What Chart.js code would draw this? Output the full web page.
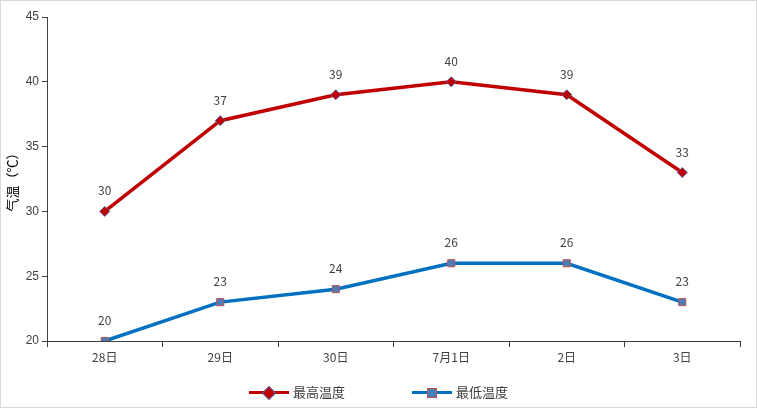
<!DOCTYPE html>
<html><head><meta charset="utf-8">
<script src="https://cdn.jsdelivr.net/npm/chart.js@4/dist/chart.umd.min.js"></script>
<style>
body{margin:0;background:#fff;font-family:"Noto Sans CJK SC",sans-serif}
#wrap{position:relative;width:757px;height:408px}
#frame{position:absolute;left:0;top:0;width:755px;height:406px;border:1px solid #d9d9d9;pointer-events:none}
#legend{position:absolute;top:380px;left:0;width:757px;text-align:center;font-size:13px;color:#404040}
.item{display:inline-block;margin:0 32px;vertical-align:middle}
.sw{display:inline-block;position:relative;width:40px;height:10px;vertical-align:middle;margin-right:4px}
.sw i{position:absolute;left:0;right:0;top:3px;height:3px}
.sw b{position:absolute;left:15px;top:0;width:8px;height:8px}
</style></head>
<body><div id="wrap"><canvas id="c" width="757" height="408"></canvas><div id="frame"></div>
<div id="legend">
<span class="item"><span class="sw"><i style="background:#c00000"></i><b style="background:#c00000;border:1px solid #5b5ea6;transform:rotate(45deg)"></b></span>最高温度</span>
<span class="item"><span class="sw"><i style="background:#0070c0"></i><b style="background:#4a7ebb;border:1px solid #c0504d"></b></span>最低温度</span>
</div></div>
<script>
// chart data
const categories = ["28日", "29日", "30日", "7月1日", "2日", "3日"];
const highTemps = [30, 37, 39, 40, 39, 33];
const lowTemps = [20, 23, 24, 26, 26, 23];

// draws value labels above each point
const valueLabels = {
    id: "valueLabels",
    afterDatasetsDraw(chart) {
        const ctx = chart.ctx;
        ctx.save();
        ctx.font = "12px 'Noto Sans CJK SC', sans-serif";
        ctx.fillStyle = "#404040";
        ctx.textAlign = "center";
        chart.data.datasets.forEach((ds, i) => {
            chart.getDatasetMeta(i).data.forEach((pt, j) => {
                ctx.fillText(ds.data[j], pt.x, pt.y - 16);
            });
        });
        ctx.restore();
    },
};

new Chart(document.getElementById("c"), {
    type: "line",
    data: {
        labels: categories,
        datasets: [
            {
                label: "最高温度",
                data: highTemps,
                borderColor: "#c00000",
                borderWidth: 3.5,
                pointStyle: "rectRot",
                pointRadius: 5,
                pointBackgroundColor: "#c00000",
                pointBorderColor: "#5b5ea6",
                pointBorderWidth: 1,
            },
            {
                label: "最低温度",
                data: lowTemps,
                borderColor: "#0070c0",
                borderWidth: 3.5,
                pointStyle: "rect",
                pointRadius: 5,
                pointBackgroundColor: "#4a7ebb",
                pointBorderColor: "#c0504d",
                pointBorderWidth: 1,
            },
        ],
    },
    options: {
        responsive: false,
        animation: false,
        layout: { padding: { left: 0, right: 17, top: 17, bottom: 37 } },
        plugins: { legend: { display: false }, tooltip: { enabled: false } },
        scales: {
            x: {
                offset: true,
                grid: { offset: true, drawOnChartArea: false, color: "#404040", tickLength: 6 },
                border: { color: "#404040" },
                ticks: { color: "#404040", font: { size: 12, family: "'Noto Sans CJK SC'" } },
                afterFit: (s) => { s.height = 30; },
            },
            y: {
                min: 20,
                max: 45,
                ticks: { stepSize: 5, color: "#404040", font: { size: 12 } },
                grid: { drawOnChartArea: false, color: "#404040", tickLength: 5 },
                border: { color: "#404040" },
                title: { display: true, text: "气温（℃）", color: "#000", font: { size: 13, family: "'Noto Sans CJK SC'" } },
                afterFit: (s) => { s.width = 47; },
            },
        },
    },
    plugins: [valueLabels],
});
</script></body></html>
